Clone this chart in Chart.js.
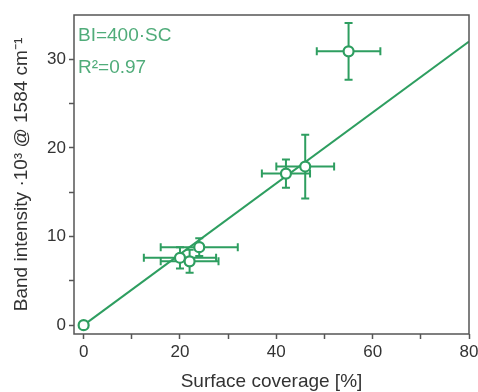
<!DOCTYPE html>
<html>
<head>
<meta charset="utf-8">
<script src="https://cdn.jsdelivr.net/npm/chart.js@4"></script>
<style>
  html, body { margin: 0; padding: 0; background: #fff; }
  #wrap { width: 478px; height: 392px; }
</style>
</head>
<body>
<div id="wrap"><canvas id="myChart" width="478" height="392"></canvas></div>
<script>
// measured points (surface coverage %, band intensity x10^3)
const coverage = [0, 20, 22, 24, 42, 46, 55];
const intensity = [0, 7.6, 7.2, 8.8, 17.1, 17.9, 30.9];
const coverageErr = [0, 7.5, 6, 8, 5, 6, 6.6];
const intensityErr = [0, 1.2, 1.3, 1.0, 1.6, 3.6, 3.2];

// linear fit BI = 400 * SC
const fitX = [0, 80];
const fitY = [0, 32];

const xTicks = [0, 10, 20, 30, 40, 50, 60, 70, 80];
const yTicks = [0, 5, 10, 15, 20, 25, 30];

const fitText = 'BI=400·SC';
const r2Text = 'R²=0.97';

const green = 'rgb(46,158,96)';
const textGreen = 'rgb(80,172,122)';
const axisGray = '#555';
const FONT = '"Liberation Sans", Arial, sans-serif';

function pts(xs, ys) {
  var out = [];
  for (var i = 0; i < xs.length; i++) out.push({x: xs[i], y: ys[i]});
  return out;
}

// error bars drawn behind the markers
const errorBars = {
  id: 'errorBars',
  beforeDatasetsDraw(chart) {
    const ctx = chart.ctx;
    const xs = chart.scales.x, ys = chart.scales.y;
    const cap = 4;
    ctx.save();
    ctx.strokeStyle = green;
    ctx.lineWidth = 2;
    for (var i = 0; i < coverage.length; i++) {
      if (coverageErr[i] > 0) {
        let y = ys.getPixelForValue(intensity[i]);
        let x1 = xs.getPixelForValue(coverage[i] - coverageErr[i]);
        let x2 = xs.getPixelForValue(coverage[i] + coverageErr[i]);
        ctx.beginPath();
        ctx.moveTo(x1, y); ctx.lineTo(x2, y);
        ctx.moveTo(x1, y - cap); ctx.lineTo(x1, y + cap);
        ctx.moveTo(x2, y - cap); ctx.lineTo(x2, y + cap);
        ctx.stroke();
      }
      if (intensityErr[i] > 0) {
        let x = xs.getPixelForValue(coverage[i]);
        let y1 = ys.getPixelForValue(intensity[i] - intensityErr[i]);
        let y2 = ys.getPixelForValue(intensity[i] + intensityErr[i]);
        ctx.beginPath();
        ctx.moveTo(x, y1); ctx.lineTo(x, y2);
        ctx.moveTo(x - cap, y1); ctx.lineTo(x + cap, y1);
        ctx.moveTo(x - cap, y2); ctx.lineTo(x + cap, y2);
        ctx.stroke();
      }
    }
    ctx.restore();
  }
};

// box frame + annotation text
const frameAndText = {
  id: 'frameAndText',
  afterDraw(chart) {
    const ctx = chart.ctx;
    const a = chart.chartArea;
    ctx.save();
    ctx.strokeStyle = axisGray;
    ctx.lineWidth = 1.5;
    ctx.strokeRect(a.left, a.top, a.right - a.left, a.bottom - a.top);
    ctx.fillStyle = textGreen;
    ctx.font = '19px ' + FONT;
    ctx.textBaseline = 'alphabetic';
    ctx.fillText(fitText, a.left + 4, a.top + 26);
    ctx.fillText(r2Text, a.left + 4, a.top + 58);
    ctx.restore();
  }
};

const ctx = document.getElementById('myChart');
const bandChart = new Chart(ctx, {
  type: 'scatter',
  data: {
    datasets: [
      {
        label: 'data',
        data: pts(coverage, intensity),
        pointRadius: 5,
        pointBorderWidth: 2.2,
        pointBorderColor: green,
        pointBackgroundColor: '#fff',
        order: 0
      },
      {
        label: 'fit',
        type: 'line',
        data: pts(fitX, fitY),
        borderColor: green,
        borderWidth: 2,
        pointRadius: 0,
        fill: false,
        order: 1
      }
    ]
  },
  options: {
    responsive: false,
    animation: false,
    devicePixelRatio: 1,
    layout: { padding: { top: 15, right: 9, left: 0, bottom: 0 } },
    plugins: {
      legend: { display: false },
      tooltip: { enabled: false }
    },
    scales: {
      x: {
        type: 'linear',
        min: -2,
        max: 80,
        afterBuildTicks: function(scale) {
          scale.ticks = xTicks.map(v => ({value: v}));
        },
        afterFit: function(scale) {
          scale.height = 58;
          scale.paddingRight = 0;
          scale.paddingLeft = 0;
        },
        border: { display: false },
        grid: {
          drawOnChartArea: false,
          drawTicks: true,
          tickLength: 5,
          tickColor: axisGray,
          tickWidth: 1.5
        },
        ticks: {
          padding: 3,
          color: '#333',
          font: { family: FONT, size: 17 },
          maxRotation: 0,
          autoSkip: false,
          callback: function(val) { return val % 20 === 0 ? val : ''; }
        },
        title: {
          display: true,
          text: 'Surface coverage [%]',
          color: '#333',
          font: { family: FONT, size: 19, lineHeight: 1.0 },
          padding: { top: 0, bottom: 1 }
        }
      },
      y: {
        type: 'linear',
        min: -1,
        max: 35,
        afterBuildTicks: function(scale) {
          scale.ticks = yTicks.map(v => ({value: v}));
        },
        afterFit: function(scale) { scale.width = 74; },
        border: { display: false },
        grid: {
          drawOnChartArea: false,
          drawTicks: true,
          tickLength: 5,
          tickColor: axisGray,
          tickWidth: 1.5
        },
        ticks: {
          padding: 3,
          color: '#333',
          font: { family: FONT, size: 17 },
          autoSkip: false,
          callback: function(val) { return val % 10 === 0 ? val : ''; }
        },
        title: {
          display: true,
          text: 'Band intensity ·10³ @ 1584 cm⁻¹',
          color: '#333',
          font: { family: FONT, size: 19, lineHeight: 1.0 },
          padding: { top: 12, bottom: 0 }
        }
      }
    }
  },
  plugins: [errorBars, frameAndText]
});
</script>
</body>
</html>
